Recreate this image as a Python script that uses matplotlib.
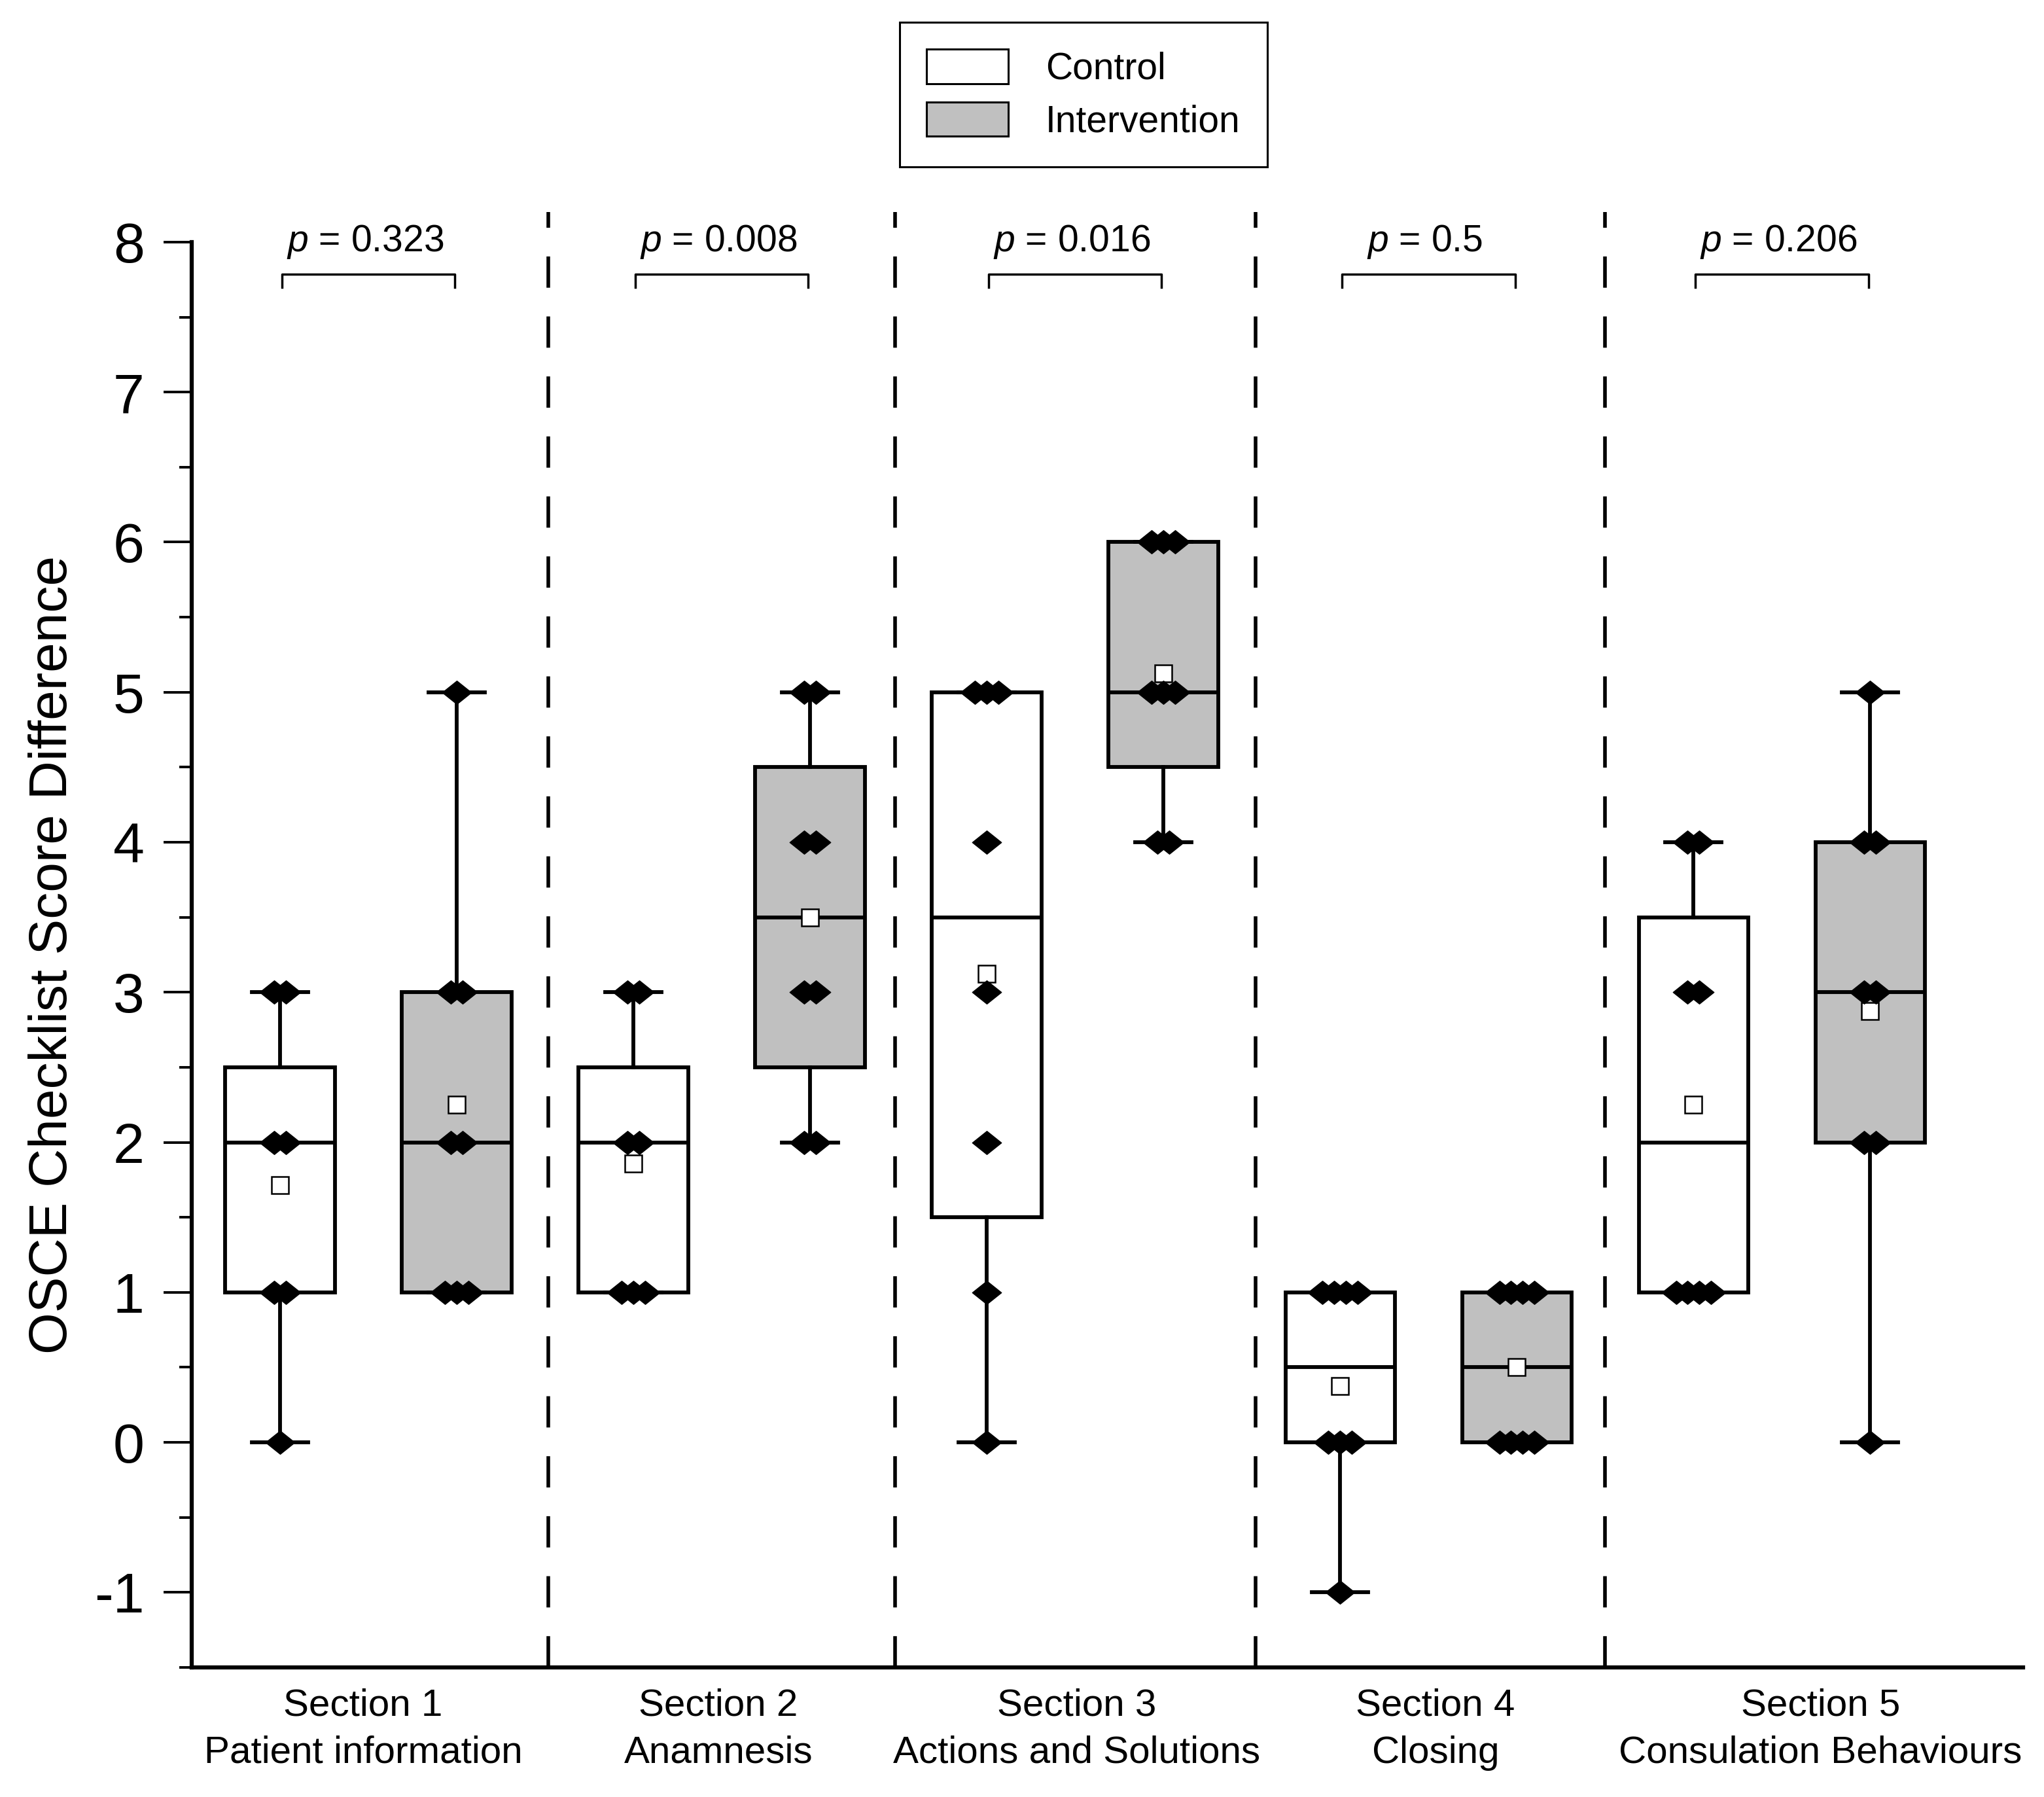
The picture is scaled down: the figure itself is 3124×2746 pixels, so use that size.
import numpy as np
import matplotlib
matplotlib.use("Agg")
import matplotlib.pyplot as plt
from matplotlib import cbook
from matplotlib.patches import Patch
from matplotlib.path import Path
from matplotlib.ticker import MultipleLocator

plt.rcParams["font.family"] = ["Liberation Sans", "DejaVu Sans"]
plt.rcParams["mathtext.fontset"] = "custom"
plt.rcParams["mathtext.it"] = "Liberation Sans:italic"
plt.rcParams["mathtext.rm"] = "Liberation Sans"
plt.rcParams["axes.unicode_minus"] = False

GRAY = "#c0c0c0"

# data
sections = [
    "Section 1\nPatient information",
    "Section 2\nAnamnesis",
    "Section 3\nActions and Solutions",
    "Section 4\nClosing",
    "Section 5\nConsulation Behaviours",
]
p_values = ["0.323", "0.008", "0.016", "0.5", "0.206"]
control = [
    [0, 1, 1, 2, 2, 3, 3],
    [1, 1, 1, 2, 2, 3, 3],
    [0, 1, 2, 3, 4, 5, 5, 5],
    [-1, 0, 0, 0, 1, 1, 1, 1],
    [1, 1, 1, 1, 3, 3, 4, 4],
]
intervention = [
    [1, 1, 1, 2, 2, 3, 3, 5],
    [2, 2, 3, 3, 4, 4, 5, 5],
    [4, 4, 5, 5, 5, 6, 6, 6],
    [0, 0, 0, 0, 1, 1, 1, 1],
    [0, 2, 2, 3, 3, 4, 4, 5],
]

positions = np.arange(1, len(sections) + 1)
label_pos = positions + np.array([-0.015, -0.01, 0.005, 0.02, 0.11])
dividers = [1.51, 2.49, 3.51, 4.5]
offset = 0.25


def hinges(vals):
    v = np.sort(vals)
    h = (len(v) + 1) // 2
    return np.median(v[:h]), np.median(v[len(v) - h:])


def stats(vals):
    s = cbook.boxplot_stats(vals, whis=(0, 100))[0]
    s["q1"], s["q3"] = hinges(vals)
    return s


def spread(vals, step=0.033):
    vals = np.asarray(vals, float)
    off = np.zeros(len(vals))
    for v in np.unique(vals):
        idx = np.where(vals == v)[0]
        off[idx] = (np.arange(len(idx)) - (len(idx) - 1) / 2) * step
    return off


diamond = Path([(-1, 0), (0, 0.8), (1, 0), (0, -0.8), (-1, 0)],
               [Path.MOVETO, Path.LINETO, Path.LINETO, Path.LINETO, Path.CLOSEPOLY])

W, H = 3124, 2746
fig = plt.figure(figsize=(W / 100, H / 100), dpi=100)
ax = fig.add_axes([0.0938, 0.0721, 0.896, 0.7932])

LW = 4.2
for groups, shift, face in [(control, -offset, "white"), (intervention, offset, GRAY)]:
    ax.bxp(
        [stats(g) for g in groups],
        positions=positions + shift,
        widths=0.31,
        capwidths=0.16,
        patch_artist=True,
        showmeans=True,
        showfliers=False,
        boxprops=dict(facecolor=face, edgecolor="black", linewidth=LW),
        whiskerprops=dict(color="black", linewidth=LW),
        capprops=dict(color="black", linewidth=LW),
        medianprops=dict(color="black", linewidth=LW),
        meanprops=dict(marker="s", markerfacecolor="white", markeredgecolor="black",
                       markersize=19, markeredgewidth=1.8),
        zorder=2,
    )
    for pos, g in zip(positions + shift, groups):
        ax.plot(pos + spread(g), g, linestyle="none", marker=diamond, markersize=32,
                color="black", zorder=4)

for x in dividers:
    ax.plot([x, x], [-1.5, 8.2], color="black", linewidth=4, linestyle=(0, (8.6, 7.9)),
            clip_on=False, zorder=1)

for pos, p in zip(positions, p_values):
    x0, x1 = pos - 0.245, pos + 0.245
    ax.plot([x0, x0, x1, x1], [7.70, 7.785, 7.785, 7.70], color="black", linewidth=2.5,
            clip_on=False)
    ax.text(pos - 0.01, 7.94, f"$p$ = {p}", ha="center", va="baseline", fontsize=41)

ax.set_xlim(0.5, 5.683)
ax.set_ylim(-1.5, 8)
ax.set_yticks(range(-1, 9))
ax.yaxis.set_minor_locator(MultipleLocator(0.5))
ax.tick_params(axis="y", which="major", length=31, width=2.8, labelsize=62, pad=21)
ax.tick_params(axis="y", which="minor", length=14, width=2.8)
ax.set_xticks(label_pos, sections)
ax.tick_params(axis="x", length=0, labelsize=42, pad=23)
for t in ax.get_xticklabels():
    t.set_linespacing(1.42)

for side in ["top", "right"]:
    ax.spines[side].set_visible(False)
for side in ["left", "bottom"]:
    ax.spines[side].set_linewidth(4.5)

ax.set_ylabel("OSCE Checklist Score Difference", fontsize=59)
ax.yaxis.set_label_coords(-0.062, 0.5)

handles = [
    Patch(facecolor="white", edgecolor="black", linewidth=2.2),
    Patch(facecolor=GRAY, edgecolor="black", linewidth=2.2),
]
leg = fig.legend(handles, ["Control", "Intervention"], loc="upper center",
                 bbox_to_anchor=(0.530, 0.9876), borderaxespad=0, fontsize=41,
                 frameon=True, fancybox=False, edgecolor="black", framealpha=1,
                 handlelength=2.2, handleheight=1.05, handletextpad=1.0,
                 labelspacing=0.4, borderpad=0.72)
leg.get_frame().set_linewidth(2.2)

fig.savefig("out.png", dpi=100, facecolor="white")
